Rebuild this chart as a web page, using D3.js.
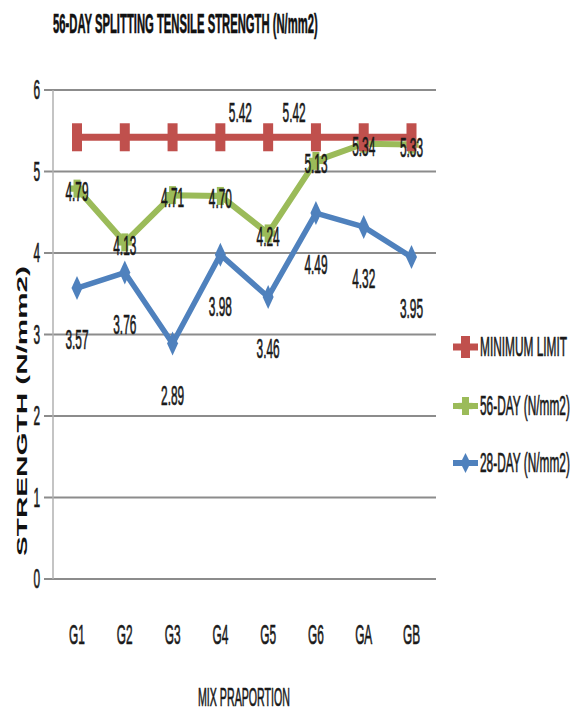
<!DOCTYPE html>
<html><head><meta charset="utf-8">
<script src="https://cdn.jsdelivr.net/npm/d3@7"></script>
<style>body{margin:0;background:#fff}svg{display:block}</style>
</head><body>
<script>
const categories = ["G1","G2","G3","G4","G5","G6","GA","GB"];
const minimumLimit = [5.42,5.42,5.42,5.42,5.42,5.42,5.42,5.42];
const day56 = [4.79,4.13,4.71,4.70,4.24,5.13,5.34,5.33];
const day28 = [3.57,3.76,2.89,3.98,3.46,4.49,4.32,3.95];
const yTicks = [0,1,2,3,4,5,6];
const minLimitLabelIdx = [3,4];
const seriesNames = ["MINIMUM LIMIT","56-DAY  (N/mm2)","28-DAY (N/mm2)"];
const titleText = "56-DAY SPLITTING TENSILE STRENGTH  (N/mm2)";
const xTitle = "MIX PRAPORTION";
const yTitle = "STRENGTH (N/mm2)";

const W=585,H=713;
const RED="#C0504D",GREEN="#9BBB59",BLUE="#4F81BD",GRID="#8c8c8c",TXT="#1a1a1a";
const FONT="'Liberation Sans', Arial, sans-serif";
const FS=28;

const svg=d3.select("body").append("svg").attr("width",W).attr("height",H);
const x=d3.scalePoint().domain(categories).range([77,411.5]);
const y=d3.scaleLinear().domain([0,6]).range([579,90]);

function measure(s,fs,fw){
  const t=svg.append("text").attr("font-family",FONT).attr("font-size",fs).attr("font-weight",fw||"normal").text(s);
  const w=t.node().getComputedTextLength(); t.remove(); return w;
}
const SX = 87/measure("MINIMUM LIMIT",FS);

function txt(g,s,px,py,opt={}){
  return g.append("text")
    .attr("transform",`translate(${px},${py}) scale(${opt.sx||SX},1)`)
    .attr("text-anchor",opt.anchor||"middle")
    .attr("dominant-baseline",opt.base||"central")
    .attr("font-family",FONT).attr("font-size",opt.fs||FS)
    .attr("font-weight",opt.fw||"normal")
    .attr("fill",opt.fill||TXT)
    .attr("stroke",opt.fill||TXT).attr("stroke-width",opt.sw==null?0.7:opt.sw)
    .text(s);
}

// title
txt(svg,titleText,53,33,{anchor:"start",base:"alphabetic",fs:28,fw:"bold",sx:265/measure(titleText,28,"bold"),fill:"#111",sw:0.6});

// gridlines
const grid=svg.append("g");
grid.selectAll("line").data(yTicks).join("line")
  .attr("x1",44).attr("x2",436).attr("y1",d=>y(d)).attr("y2",d=>y(d))
  .attr("stroke",GRID).attr("stroke-width",2);
// y axis line
svg.append("line").attr("x1",53).attr("x2",53).attr("y1",y(6)).attr("y2",y(0))
  .attr("stroke","#b0b0b0").attr("stroke-width",1.5);
// y tick labels
const yl=svg.append("g");
yTicks.forEach(t=>txt(yl,String(t),40,y(t),{anchor:"end"}));
// x tick labels
const xl=svg.append("g");
categories.forEach(c=>txt(xl,c,x(c),635));
// axis titles
txt(svg,xTitle,244,697,{sx:92/measure(xTitle,26),fs:26});
svg.append("text")
  .attr("transform",`translate(26.5,411) rotate(-90)`)
  .attr("text-anchor","middle")
  .attr("font-family",FONT).attr("font-size",15).attr("font-weight","bold")
  .attr("fill","#111").attr("textLength",290).attr("lengthAdjust","spacingAndGlyphs")
  .text(yTitle);

const line=d3.line().x((d,i)=>x(categories[i])).y(d=>y(d));

function plus(g,cx,cy,w,h,arm,col){
  g.append("rect").attr("x",cx-w/2).attr("y",cy-h/2).attr("width",w).attr("height",h).attr("fill",col);
  g.append("rect").attr("x",cx-arm/2).attr("y",cy-w*0.45).attr("width",arm).attr("height",w*0.9).attr("fill",col);
}
function diamond(g,cx,cy,w,h,col){
  g.append("path").attr("d",`M${cx},${cy-h/2}L${cx+w/2},${cy}L${cx},${cy+h/2}L${cx-w/2},${cy}Z`).attr("fill",col);
}

// 28-day
const gB=svg.append("g");
gB.append("path").datum(day28).attr("d",line).attr("fill","none").attr("stroke",BLUE).attr("stroke-width",5.5).attr("stroke-linejoin","round");
day28.forEach((v,i)=>diamond(gB,x(categories[i]),y(v),11,24,BLUE));
// 56-day
const gG=svg.append("g");
gG.append("path").datum(day56).attr("d",line).attr("fill","none").attr("stroke",GREEN).attr("stroke-width",6).attr("stroke-linejoin","round");
day56.forEach((v,i)=>plus(gG,x(categories[i]),y(v),7,18,14,GREEN));
// minimum limit
const gR=svg.append("g");
gR.append("path").datum(minimumLimit).attr("d",line).attr("fill","none").attr("stroke",RED).attr("stroke-width",7);
minimumLimit.forEach((v,i)=>gR.append("rect").attr("x",x(categories[i])-5).attr("y",y(v)-14).attr("width",10).attr("height",28).attr("fill",RED));

// data labels
const lab=svg.append("g");
day28.forEach((v,i)=>txt(lab,v.toFixed(2),x(categories[i]),y(v)+52));
day56.forEach((v,i)=>txt(lab,v.toFixed(2),x(categories[i]),y(v)+3));
minLimitLabelIdx.forEach((i,k)=>txt(lab,minimumLimit[i].toFixed(2),x(categories[i])+(k?26:20),y(minimumLimit[i])-24));

// legend
const leg=svg.append("g");
const legY=[347,406,463], legCol=[RED,GREEN,BLUE];
legY.forEach((ly,k)=>{
  leg.append("line").attr("x1",453).attr("x2",478).attr("y1",ly).attr("y2",ly).attr("stroke",legCol[k]).attr("stroke-width",k==0?7:6);
  if(k==0) leg.append("rect").attr("x",461).attr("y",ly-11).attr("width",9).attr("height",22).attr("fill",RED);
  else if(k==1) plus(leg,465.5,ly,7,18,14,GREEN);
  else diamond(leg,465.5,ly,10,20,BLUE);
  txt(leg,seriesNames[k],480,ly,{anchor:"start"});
});
</script>
</body></html>
